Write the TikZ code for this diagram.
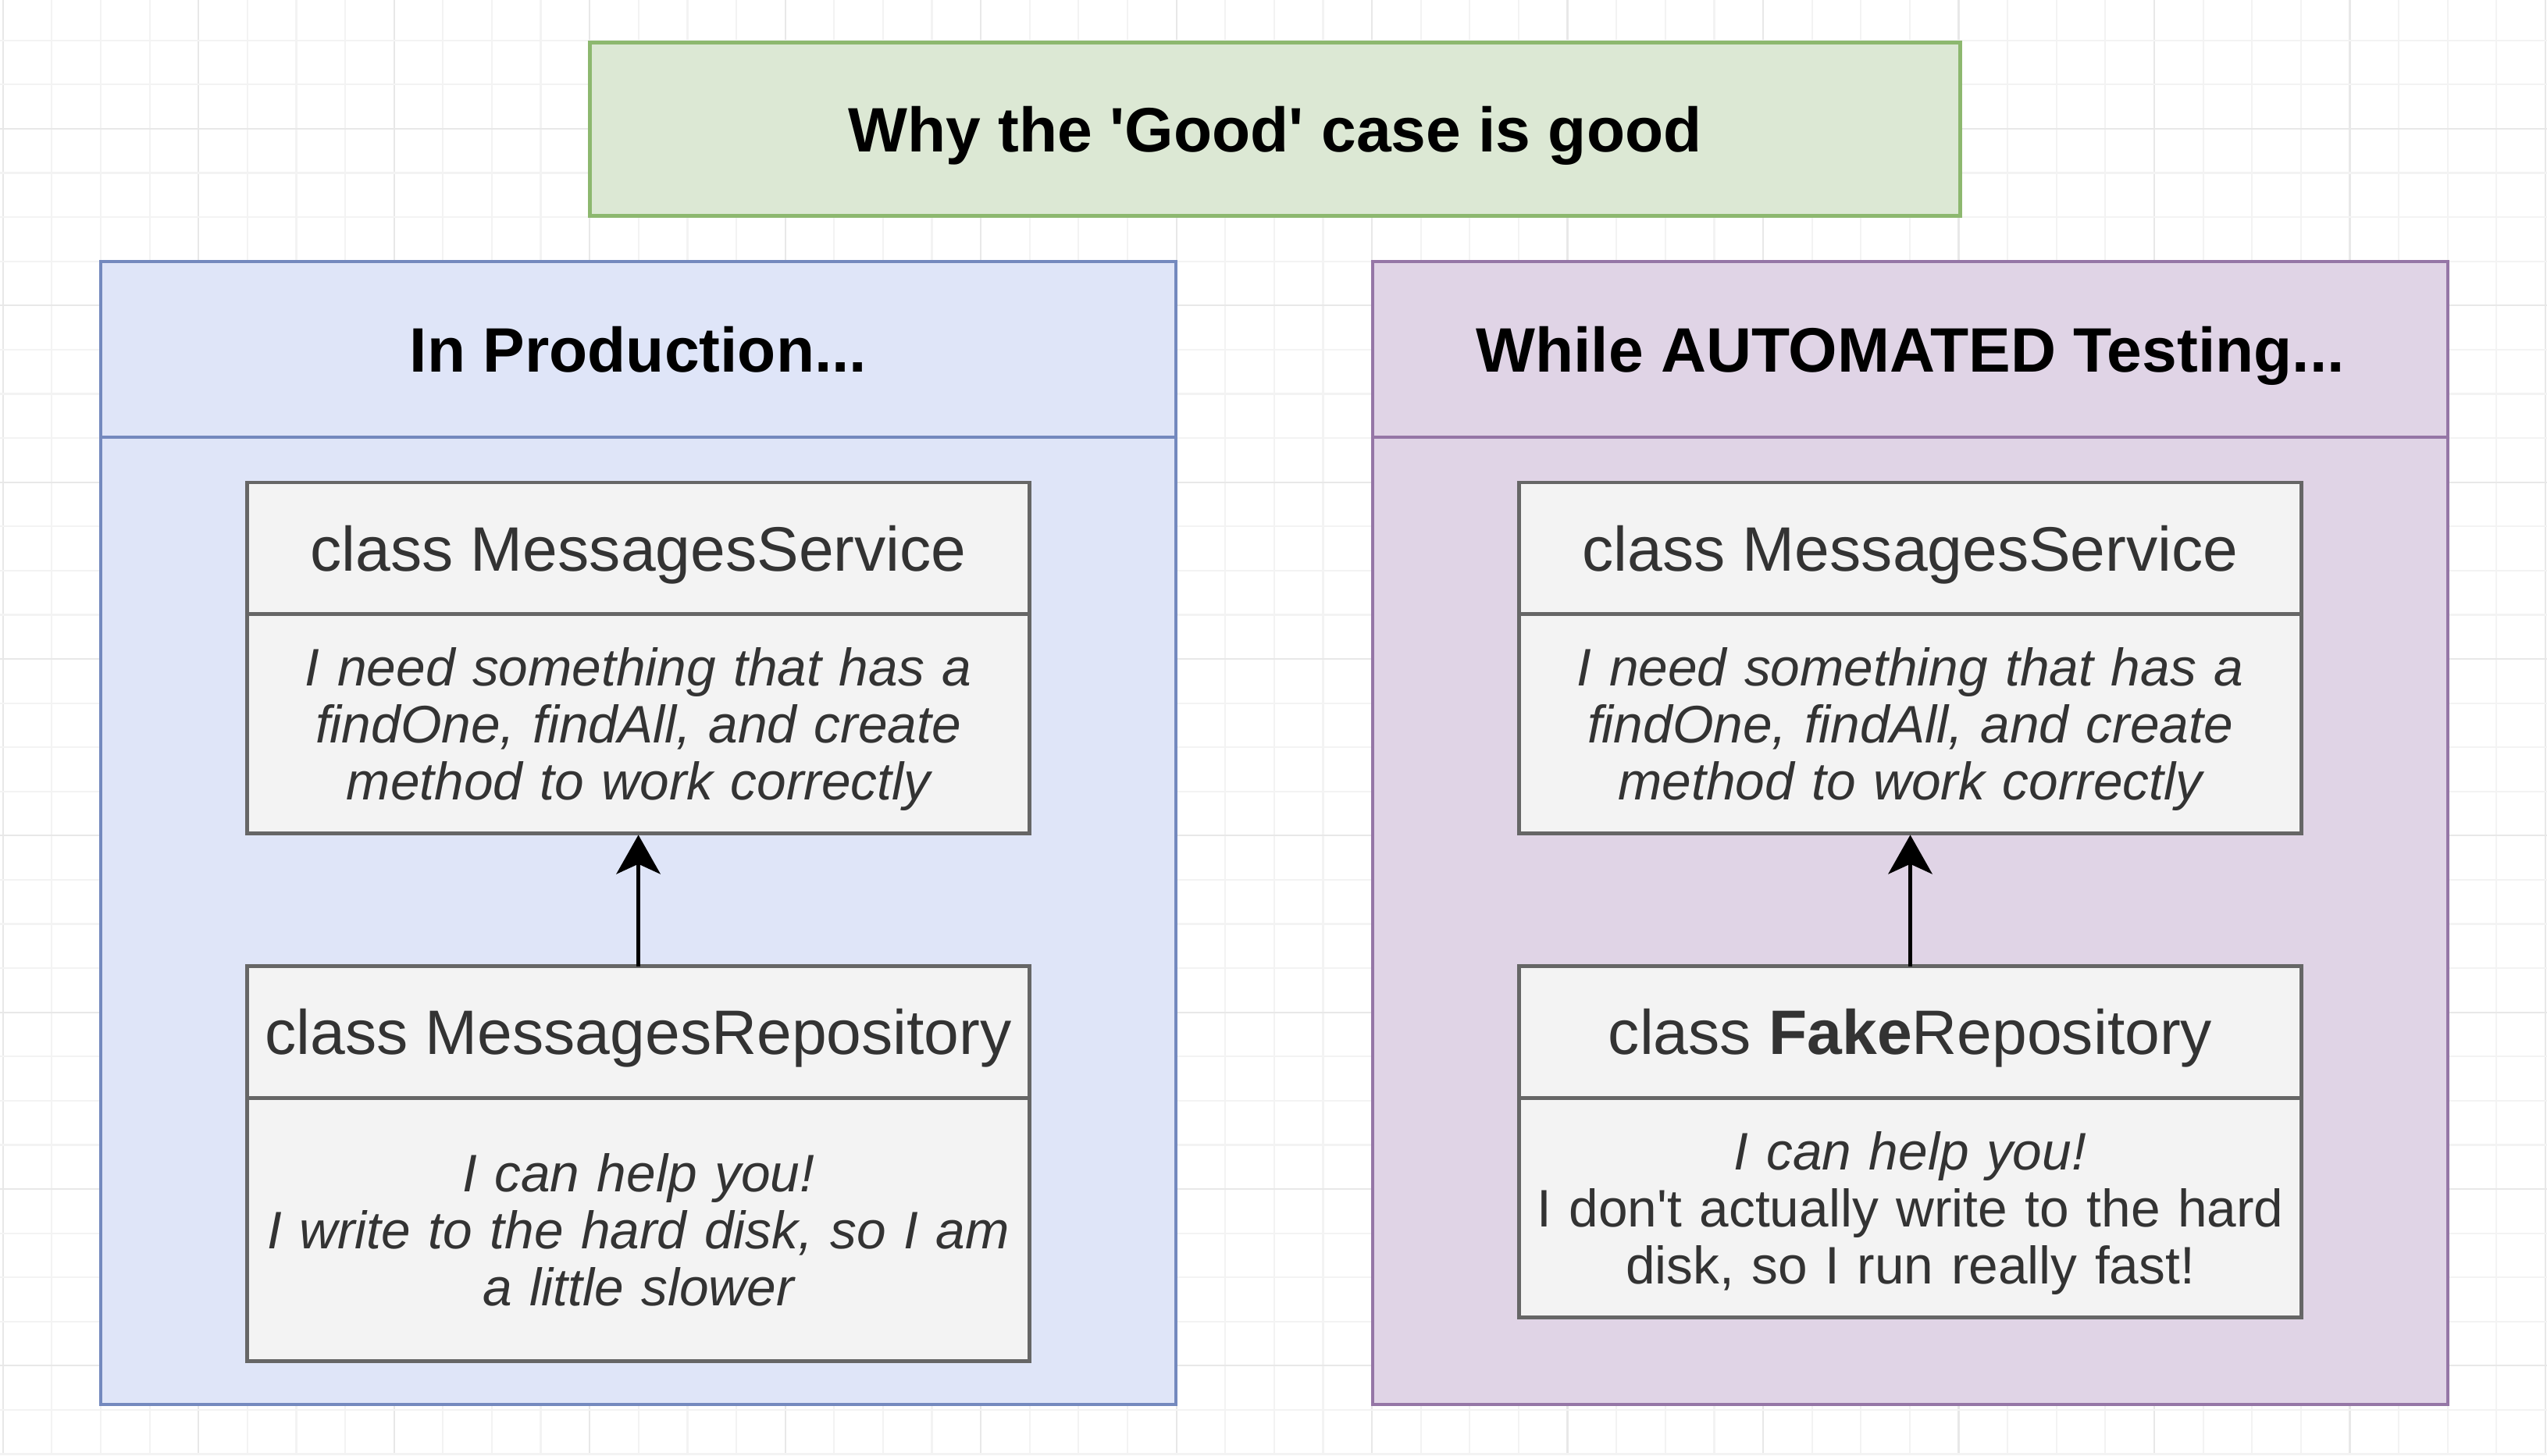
\documentclass[tikz,border=0pt]{standalone}
\usepackage{fontspec}
\setmainfont{Liberation Sans}
\usetikzlibrary{arrows.meta}
\definecolor{gridminor}{HTML}{F3F3F3}
\definecolor{gridmajor}{HTML}{E8E8E8}
\definecolor{titlefill}{HTML}{DCE8D4}
\definecolor{titledraw}{HTML}{8DB86F}
\definecolor{prodfill}{HTML}{DFE5F8}
\definecolor{proddraw}{HTML}{7489BE}
\definecolor{testfill}{HTML}{E0D4E6}
\definecolor{testdraw}{HTML}{9576A6}
\definecolor{classfill}{HTML}{F3F3F3}
\definecolor{classdraw}{HTML}{666666}
\definecolor{classtext}{HTML}{333333}
\newcommand{\firststrut}{\rule{0pt}{18pt}}
\newcommand{\laststrut}{\rule[-4.6pt]{0pt}{4.6pt}}
\tikzset{
  titlebox/.style={draw=titledraw, fill=titlefill, line width=1.4pt, inner sep=0pt, outer sep=0pt,
    minimum width=16.88cm, minimum height=2.14cm, text height=15.8pt, text depth=0pt,
    font=\bfseries\fontsize{22}{26}\selectfont, text=black},
  contbox/.style={line width=1.1pt, inner sep=0pt, outer sep=0pt,
    minimum width=13.24cm, minimum height=14.08cm},
  headbox/.style={line width=1.1pt, inner sep=0pt, outer sep=0pt,
    minimum width=13.24cm, minimum height=2.16cm, text height=15.8pt, text depth=0pt,
    font=\bfseries\fontsize{22}{26}\selectfont, text=black},
  classhead/.style={draw=classdraw, fill=classfill, line width=1.3pt, inner sep=0pt, outer sep=0pt,
    minimum width=9.64cm, minimum height=1.62cm, text height=15.8pt, text depth=0pt,
    font=\fontsize{22}{26}\selectfont, text=classtext},
  classbody/.style={draw=classdraw, fill=classfill, line width=1.3pt, inner sep=0pt, outer sep=0pt,
    minimum width=9.64cm, align=center, text width=9.4cm,
    font=\fontsize{18.5}{20}\selectfont, text=classtext},
  deparrow/.style={draw=black, line width=1.4pt, -{Stealth[length=13.7pt, width=15.4pt, inset=3.5pt]}, shorten >=0.6pt}
}
\begin{document}
\begin{tikzpicture}[x=0.02cm, y=-0.02cm]
\useasboundingbox (0,0) rectangle (1568,896);
% faint grid background
\foreach \i in {0,...,52} {
  \pgfmathsetmacro{\gx}{1.8+30.1*\i}
  \pgfmathtruncatemacro{\maj}{mod(\i,4)==0}
  \ifnum\maj=1
    \draw[gridmajor, line width=0.6pt] (\gx,0) -- (\gx,896);
  \else
    \draw[gridminor, line width=0.6pt] (\gx,0) -- (\gx,896);
  \fi
}
\foreach \j in {0,...,33} {
  \pgfmathsetmacro{\gy}{-2.3+27.2*\j}
  \pgfmathtruncatemacro{\maj}{mod(\j,4)==3}
  \ifnum\maj=1
    \draw[gridmajor, line width=0.6pt] (0,\gy) -- (1568,\gy);
  \else
    \draw[gridminor, line width=0.6pt] (0,\gy) -- (1568,\gy);
  \fi
}

% title
\node[titlebox] (title) at (785,79.5) {Why the \textquotesingle Good\textquotesingle{} case is good};

% left container
\node[contbox, draw=proddraw, fill=prodfill] (prod) at (393,513) {};
\node[headbox, draw=proddraw, fill=prodfill] (prodhead) at (393,215) {In Production...};

% right container
\node[contbox, draw=testdraw, fill=testfill] (test) at (1176,513) {};
\node[headbox, draw=testdraw, fill=testfill] (testhead) at (1176,215) {While AUTOMATED Testing...};

% left classes
\node[classhead] (lsvc) at (393,337.5) {class MessagesService};
\node[classbody, minimum height=2.7cm] (lsvcbody) at (393,445.5)
  {\itshape\firststrut I need something that has a\\ findOne, findAll, and create\\ method to work correctly\laststrut};
\node[classhead] (lrepo) at (393,635.5) {class MessagesRepository};
\node[classbody, minimum height=3.24cm] (lrepobody) at (393,757)
  {\itshape\firststrut I can help you!\\ I write to the hard disk, so I am\\ a little slower\laststrut};

% right classes
\node[classhead] (rsvc) at (1176,337.5) {class MessagesService};
\node[classbody, minimum height=2.7cm] (rsvcbody) at (1176,445.5)
  {\itshape\firststrut I need something that has a\\ findOne, findAll, and create\\ method to work correctly\laststrut};
\node[classhead] (rrepo) at (1176,635.5) {class \textbf{Fake}Repository};
\node[classbody, minimum height=2.7cm] (rrepobody) at (1176,743.5)
  {\firststrut{\itshape I can help you!}\\ I don\textquotesingle t actually write to the hard\\ disk, so I run really fast!\laststrut};

% arrows
\draw[deparrow] (lrepo.north) -- (lsvcbody.south);
\draw[deparrow] (rrepo.north) -- (rsvcbody.south);
\end{tikzpicture}
\end{document}
